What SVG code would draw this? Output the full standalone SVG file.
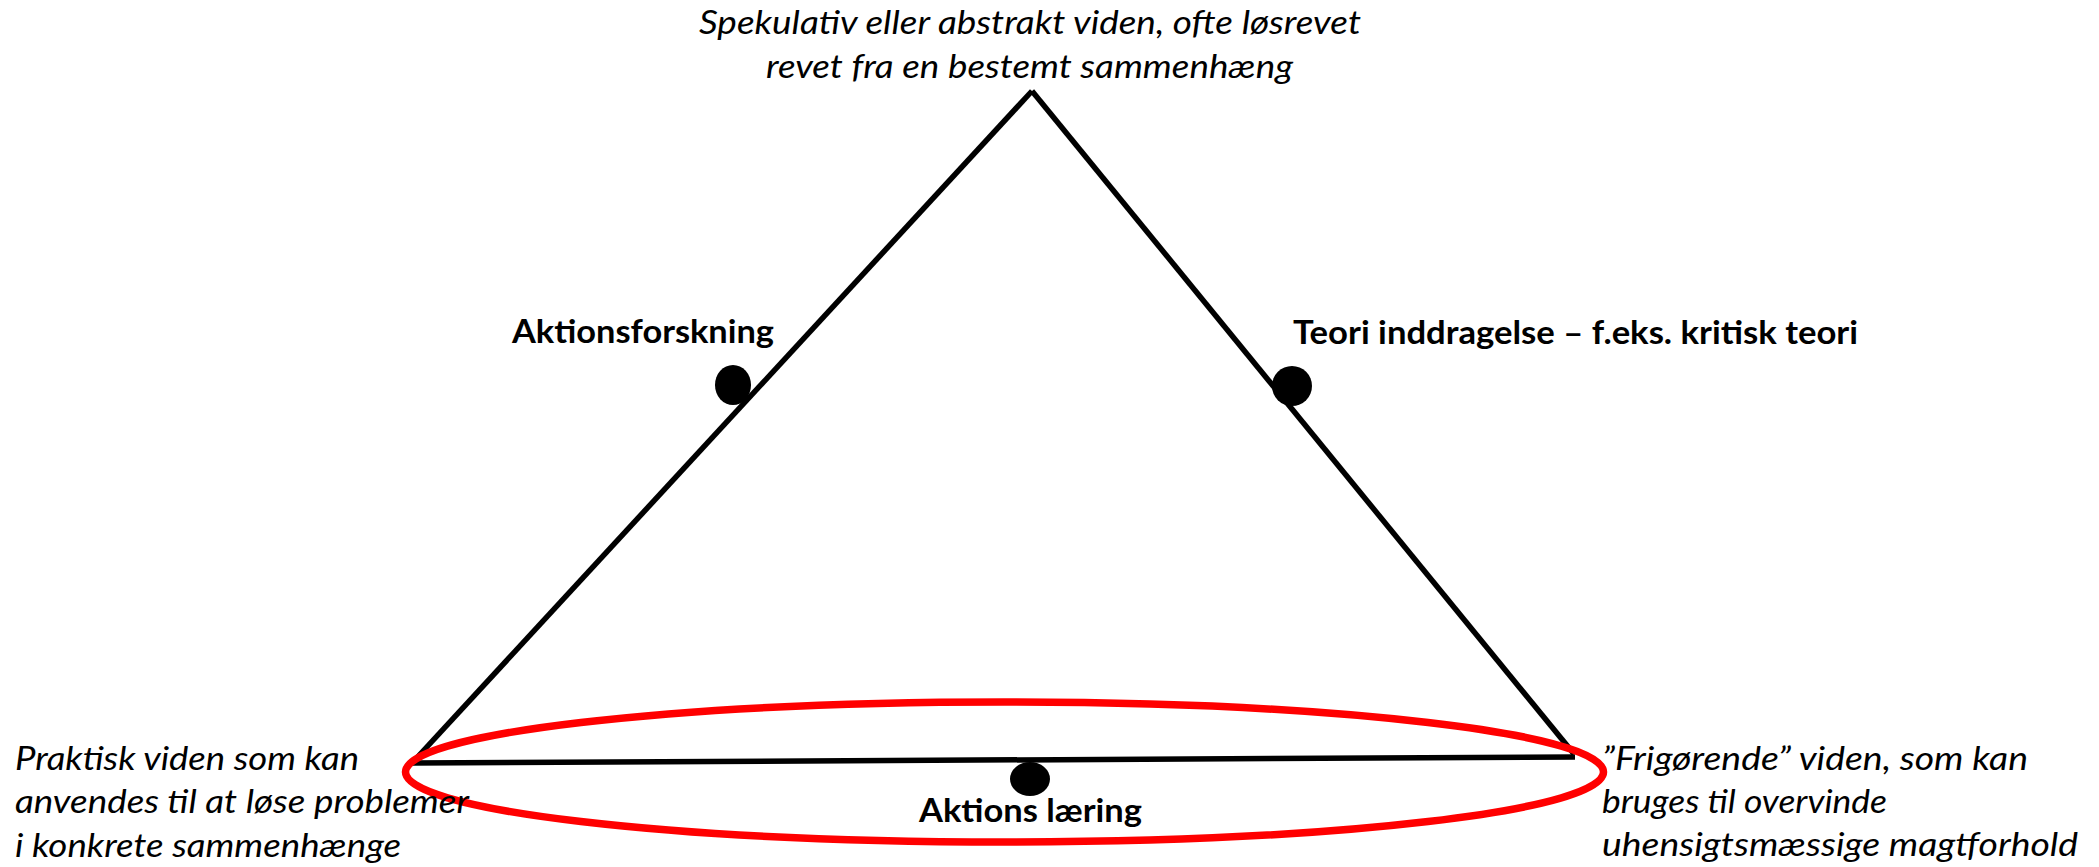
<svg xmlns="http://www.w3.org/2000/svg" width="2099" height="867" viewBox="0 0 2099 867">
<style>
.it{font-family:Lato,"Open Sans","Liberation Sans",sans-serif;font-style:italic;font-size:32px;fill:#000}
.bd{font-family:Lato,"Open Sans","Liberation Sans",sans-serif;font-weight:bold;font-size:33px;fill:#000}
.ln{stroke:#000;stroke-width:5.5;fill:none;stroke-linecap:butt}
.dot{fill:#000}
</style>
<rect width="2099" height="867" fill="#fff"/>
<g id="connectors">
<line class="ln" x1="1032" y1="91" x2="413" y2="762"/>
<line class="ln" x1="1032" y1="91" x2="1574" y2="754"/>
<line class="ln" x1="412" y1="763" x2="1575" y2="757"/>
</g>
<g id="ellipse">
<ellipse cx="1004.5" cy="772" rx="599" ry="70" fill="none" stroke="#ff0000" stroke-width="7.5"/>
</g>
<g id="top">
<text class="it" x="699" y="34" textLength="662" lengthAdjust="spacingAndGlyphs">Spekulativ eller abstrakt viden, ofte løsrevet</text>
<text class="it" x="766" y="78" textLength="527" lengthAdjust="spacingAndGlyphs">revet fra en bestemt sammenhæng</text>
</g>
<g id="left-corner">
<text class="it" x="15" y="770" textLength="344" lengthAdjust="spacingAndGlyphs">Praktisk viden som kan</text>
<text class="it" x="15" y="813" textLength="454" lengthAdjust="spacingAndGlyphs">anvendes til at løse problemer</text>
<text class="it" x="15" y="857" textLength="386" lengthAdjust="spacingAndGlyphs">i konkrete sammenhænge</text>
</g>
<g id="right-corner">
<text class="it" x="1602" y="770" textLength="426" lengthAdjust="spacingAndGlyphs">”Frigørende” viden, som kan</text>
<text class="it" x="1602" y="813" textLength="285" lengthAdjust="spacingAndGlyphs">bruges til overvinde</text>
<text class="it" x="1602" y="856" textLength="476" lengthAdjust="spacingAndGlyphs">uhensigtsmæssige magtforhold</text>
</g>
<g id="aktionsforskning">
<ellipse class="dot" cx="733" cy="385" rx="18" ry="20"/>
<text class="bd" x="512" y="343" textLength="262" lengthAdjust="spacingAndGlyphs">Aktionsforskning</text>
</g>
<g id="teori">
<ellipse class="dot" cx="1292" cy="386" rx="20" ry="20"/>
<text class="bd" x="1293" y="344" textLength="565" lengthAdjust="spacingAndGlyphs">Teori inddragelse – f.eks. kritisk teori</text>
</g>
<g id="aktions-laering">
<ellipse class="dot" cx="1030" cy="779" rx="20" ry="17"/>
<text class="bd" x="919" y="822" textLength="223" lengthAdjust="spacingAndGlyphs">Aktions læring</text>
</g>
</svg>
